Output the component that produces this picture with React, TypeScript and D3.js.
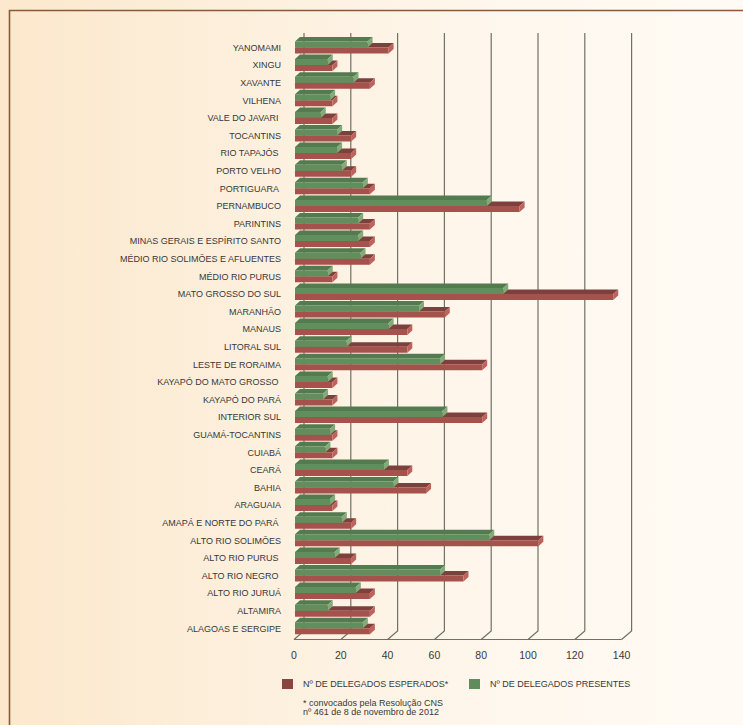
import React from "react";
import * as d3 from "d3";

const categories = [
  "YANOMAMI",
  "XINGU",
  "XAVANTE",
  "VILHENA",
  "VALE DO JAVARI ",
  "TOCANTINS",
  "RIO TAPAJÓS ",
  "PORTO VELHO",
  "PORTIGUARA ",
  "PERNAMBUCO",
  "PARINTINS",
  "MINAS GERAIS E ESPÍRITO SANTO",
  "MÉDIO RIO SOLIMÕES E AFLUENTES",
  "MÉDIO RIO PURUS",
  "MATO GROSSO DO SUL",
  "MARANHÃO",
  "MANAUS",
  "LITORAL SUL",
  "LESTE DE RORAIMA",
  "KAYAPÓ DO MATO GROSSO ",
  "KAYAPÓ DO PARÁ",
  "INTERIOR SUL",
  "GUAMÁ-TOCANTINS",
  "CUIABÁ",
  "CEARÁ",
  "BAHIA",
  "ARAGUAIA",
  "AMAPÁ E NORTE DO PARÁ ",
  "ALTO RIO SOLIMÕES",
  "ALTO RIO PURUS ",
  "ALTO RIO NEGRO ",
  "ALTO RIO JURUÁ",
  "ALTAMIRA",
  "ALAGOAS E SERGIPE",
];

const presentes = [
  31, 14, 25, 15, 11, 18, 18, 20, 29, 82, 27, 27, 28, 14, 89, 53, 40, 22, 62,
  14, 12, 63, 15, 13, 38, 42, 15, 20, 83, 17, 62, 26, 14, 29,
];

const esperados = [
  40, 16, 32, 16, 16, 24, 24, 24, 32, 96, 32, 32, 32, 16, 136, 64, 48, 48, 80,
  16, 16, 80, 16, 16, 48, 56, 16, 24, 104, 24, 72, 32, 32, 32,
];

const tickValues = [0, 20, 40, 60, 80, 100, 120, 140];

const legendLabels = ["Nº DE DELEGADOS ESPERADOS*", "Nº DE DELEGADOS PRESENTES"];
const footnote = ["* convocados pela Resolução CNS", "nº 461 de 8 de novembro de 2012"];

const FONT = "'Liberation Sans', Arial, sans-serif";

const GREEN = { front: "#618e5c", top: "#547a4f", side: "#7fac78" };
const RED = { front: "#a6524c", top: "#7e403c", side: "#c0625c" };

function bar3d(x0: number, x1: number, yTop: number, h: number, dx: number, dy: number) {
  const front = `M${x0},${yTop}H${x1}V${yTop + h}H${x0}Z`;
  const top = `M${x0},${yTop}L${x0 + dx},${yTop - dy}L${x1 + dx},${yTop - dy}L${x1},${yTop}Z`;
  const side = `M${x1},${yTop}L${x1 + dx},${yTop - dy}L${x1 + dx},${yTop + h - dy}L${x1},${yTop + h}Z`;
  return { front, top, side };
}

export default function App() {
  const W = 743;
  const H = 725;
  const x = d3.scaleLinear().domain([0, 140]).range([294, 621.6]);
  const y = d3
    .scaleBand<string>()
    .domain(categories)
    .range([38.7, 38.7 + 34 * 17.6])
    .paddingInner(0.32)
    .paddingOuter(0.16);
  const bw = y.bandwidth();
  const half = bw / 2;
  const DX = 5;
  const DY = 4.5;
  const depthX = 10;
  const floorFront = 639.5;
  const floorBack = 631;
  const gridTop = 33;

  return (
    <svg
      width={W}
      height={H}
      style={{ position: "absolute", left: 0, top: 0, display: "block" }}
      fontFamily={FONT}
    >
      <defs>
        <linearGradient id="bg" x1="0" y1="0" x2="1" y2="0">
          <stop offset="0" stopColor="#fce8cc" />
          <stop offset="0.4" stopColor="#fdf1e0" />
          <stop offset="0.7" stopColor="#fff8ef" />
          <stop offset="1" stopColor="#fffaf4" />
        </linearGradient>
      </defs>
      <rect x={0} y={0} width={W} height={H} fill="url(#bg)" />
      <path d={`M9.5,${H}V10.5H${W}`} fill="none" stroke="#8a5a38" strokeWidth={1.6} />

      {/* grid: back wall verticals + floor diagonals */}
      <g stroke="#6f7262" strokeWidth={1.2} fill="none">
        {tickValues.map((v) => (
          <path
            key={v}
            d={`M${x(v) + depthX},${gridTop}V${floorBack}L${x(v)},${floorFront}`}
          />
        ))}
        <path d={`M${x(0)},${floorFront}H${x(140)}`} />
      </g>

      {/* bars */}
      <g>
        {categories.map((c, i) => {
          const y0 = y(c) as number;
          const r = bar3d(x(0) + 1, x(esperados[i]) + 1, y0 + half, half, DX, DY);
          const g = bar3d(x(0) + 1, x(presentes[i]) + 1, y0, half, DX, DY);
          return (
            <g key={c}>
              <path d={r.top} fill={RED.top} />
              <path d={r.front} fill={RED.front} />
              <path d={r.side} fill={RED.side} />
              <path d={g.top} fill={GREEN.top} />
              <path d={g.front} fill={GREEN.front} />
              <path d={g.side} fill={GREEN.side} />
            </g>
          );
        })}
      </g>

      {/* category labels */}
      <g fontSize={9} fill="#383838" textAnchor="end">
        {categories.map((c) => (
          <text
            key={c}
            x={281}
            y={(y(c) as number) + half + 3.3}
            style={{ whiteSpace: "pre" }}
          >
            {c}
          </text>
        ))}
      </g>

      {/* x tick labels */}
      <g fontSize={10.5} fill="#383838" textAnchor="middle">
        {tickValues.map((v) => (
          <text key={v} x={x(v)} y={659.3}>
            {v}
          </text>
        ))}
      </g>

      {/* legend */}
      <g fontSize={9} fill="#383838">
        <rect x={282} y={679} width={11} height={10} fill="#8a4541" />
        <text x={303} y={687}>
          {legendLabels[0]}
        </text>
        <rect x={469} y={679} width={11} height={10} fill="#5f8c5c" />
        <text x={490} y={687}>
          {legendLabels[1]}
        </text>
        <text x={303} y={705.5}>
          {footnote[0]}
        </text>
        <text x={303} y={715}>
          {footnote[1]}
        </text>
      </g>
    </svg>
  );
}
